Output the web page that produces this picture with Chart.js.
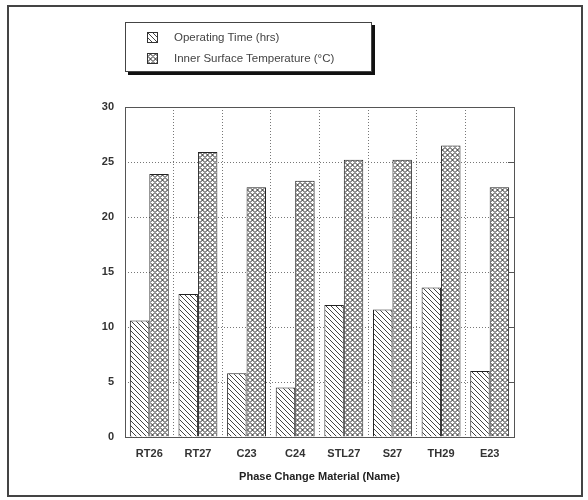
<!DOCTYPE html>
<html>
<head>
<meta charset="utf-8">
<script src="https://cdn.jsdelivr.net/npm/chart.js@4"></script>
<style>
  body { margin: 0; background: #fff; }
  #wrap { position: relative; width: 588px; height: 500px; }
  #legend {
    position: absolute; left: 125px; top: 22px; width: 245px; height: 48px;
    border: 1px solid #444; background: #fff; box-shadow: 3px 3px 0 #111;
    font-family: "Liberation Sans", Arial, sans-serif; font-size: 11.5px; color: #444;
  }
  #legend div { position: absolute; left: 21px; height: 12px; line-height: 12px; }
  #legend canvas { position: absolute; left: 0; top: 1px; border: 1px solid #333; }
  #legend span { position: absolute; left: 27px; white-space: nowrap; }
</style>
</head>
<body>
<div id="wrap">
  <canvas id="chart" width="588" height="500"></canvas>
  <div id="legend">
    <div style="top:8px"><canvas id="sw0" width="9" height="9"></canvas><span id="lg0"></span></div>
    <div style="top:29px"><canvas id="sw1" width="9" height="9"></canvas><span id="lg1"></span></div>
  </div>
</div>
<script>
// =========================
// DATA
// =========================
const materials = ["RT26", "RT27", "C23", "C24", "STL27", "S27", "TH29", "E23"];
const operatingTime = [10.6, 13.0, 5.8, 4.5, 12.0, 11.6, 13.6, 6.0];
const innerTemp = [23.9, 25.9, 22.7, 23.3, 25.2, 25.2, 26.5, 22.7];
const seriesNames = ["Operating Time (hrs)", "Inner Surface Temperature (\u00B0C)"];
const yTicks = [0, 5, 10, 15, 20, 25, 30];

// =========================
// PATTERNS
// =========================
function hatchPattern() {
  const c = document.createElement("canvas");
  c.width = 5; c.height = 5;
  const g = c.getContext("2d");
  g.fillStyle = "#fff";
  g.fillRect(0, 0, 5, 5);
  g.strokeStyle = "#444";
  g.lineWidth = 1;
  g.beginPath();
  g.moveTo(-1, -1); g.lineTo(6, 6);
  g.moveTo(-1, 4); g.lineTo(1, 6);
  g.moveTo(4, -1); g.lineTo(6, 1);
  g.stroke();
  return c;
}

function crossPattern() {
  const c = document.createElement("canvas");
  c.width = 5; c.height = 5;
  const g = c.getContext("2d");
  g.fillStyle = "#fff";
  g.fillRect(0, 0, 5, 5);
  g.strokeStyle = "#222";
  g.lineWidth = 1;
  g.beginPath();
  g.moveTo(0, 2.5); g.lineTo(2.5, 0); g.lineTo(5, 2.5); g.lineTo(2.5, 5); g.closePath();
  g.stroke();
  return c;
}

const ctx = document.getElementById("chart").getContext("2d");
const tiles = [hatchPattern(), crossPattern()];
const fills = tiles.map(t => ctx.createPattern(t, "repeat"));

// legend swatches
tiles.forEach((t, i) => {
  const sw = document.getElementById("sw" + i).getContext("2d");
  sw.fillStyle = sw.createPattern(t, "repeat");
  sw.fillRect(0, 0, 9, 9);
  document.getElementById("lg" + i).innerText = seriesNames[i];
});

// =========================
// FRAME + RIGHT TICKS
// =========================
const framePlugin = {
  id: "frame",
  afterDraw(chart) {
    const c = chart.ctx;
    const a = chart.chartArea;
    const y = chart.scales.y;
    c.save();
    c.strokeStyle = "#555";
    c.lineWidth = 1;
    c.strokeRect(a.left + 0.5, a.top + 0.5, a.right - a.left, a.bottom - a.top);
    c.beginPath();
    yTicks.forEach(v => {
      const py = Math.round(y.getPixelForValue(v)) + 0.5;
      c.moveTo(a.right - 6, py); c.lineTo(a.right, py);
    });
    c.stroke();
    c.strokeStyle = "#444";
    c.lineWidth = 2;
    c.strokeRect(8, 6, 574, 490);
    c.restore();
  }
};

// =========================
// CHART
// =========================
new Chart(ctx, {
  type: "bar",
  data: {
    labels: materials,
    datasets: [
      {
        label: seriesNames[0],
        data: operatingTime,
        backgroundColor: fills[0],
        borderColor: "#222",
        borderWidth: 1
      },
      {
        label: seriesNames[1],
        data: innerTemp,
        backgroundColor: fills[1],
        borderColor: "#222",
        borderWidth: 1
      }
    ]
  },
  options: {
    responsive: false,
    animation: false,
    layout: { padding: { top: 107, right: 74, bottom: 12, left: 0 } },
    datasets: { bar: { categoryPercentage: 0.8, barPercentage: 1.0 } },
    plugins: {
      legend: { display: false },
      tooltip: { enabled: false }
    },
    scales: {
      x: {
        grid: {
          color: "#777",
          lineWidth: 1,
          drawTicks: false
        },
        border: { display: false, dash: [1, 2] },
        ticks: {
          padding: 10,
          color: "#333",
          font: { family: "Liberation Sans", size: 11, weight: "bold" }
        },
        title: {
          display: true,
          text: "Phase Change Material (Name)",
          color: "#222",
          padding: { top: 11 },
          font: { family: "Liberation Sans", size: 11, weight: "bold" }
        },
        afterFit(scale) { scale.height = 51; }
      },
      y: {
        min: 0,
        max: 30,
        afterBuildTicks(scale) { scale.ticks = yTicks.map(v => ({ value: v })); },
        grid: {
          color: "#777",
          drawTicks: false
        },
        border: { display: false, dash: [1, 2] },
        ticks: {
          padding: 11,
          color: "#333",
          font: { family: "Liberation Sans", size: 11, weight: "bold" }
        },
        afterFit(scale) { scale.width = 125; }
      }
    }
  },
  plugins: [framePlugin]
});
</script>
</body>
</html>
